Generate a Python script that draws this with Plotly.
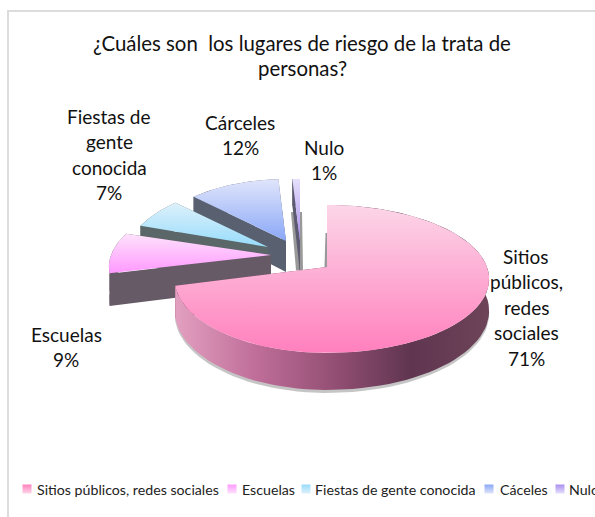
import numpy as np
import plotly.graph_objects as go

CATEGORIES = ["Sitios públicos, redes sociales", "Escuelas", "Fiestas de gente conocida", "Cárceles", "Nulo"]
LEGEND_NAMES = ["Sitios públicos, redes sociales", "Escuelas", "Fiestas de gente conocida", "Cáceles", "Nulo"]
VALUES = [71, 9, 7, 12, 1]
SLICE_LABELS = [["Sitios", "públicos,", "redes", "sociales", "71%"], ["Escuelas", "9%"],
                ["Fiestas de", "gente", "conocida", "7%"], ["Cárceles", "12%"], ["Nulo", "1%"]]
TITLE_LINES = ["¿Cuáles son  los lugares de riesgo de la trata de", "personas?"]

# styles / layout
TOP_COLORS = [("#fcd6e8", "#ff80bd"), ("#fde2fb", "#ff99ff"), ("#def1fb", "#97dcfb"), ("#e0e5fb", "#8aa8f7"), ("#e6e0fb", "#a98ff0")]
SIDE_COLOR = ["#6b4058", "#665a66", "#5a6668", "#596070", "#5c5a70"]
APEX = [(327, 267), (271, 255), (268, 247), (286, 241), (300, 241)]
XSCALE = [0.94, 1.0, 0.88, 0.88, 0.88]
RX, RY, P, DEPTH = 160.0, 72.0, 0.162, 31.0
FONT = "Lato, Carlito, Calibri, sans-serif"
LABEL_X = [526, 66, 109, 240, 324]
LABEL_Y0 = [256, 334, 116, 122, 147]
LABEL_STEP = 25.5
LEGEND_MARK_X = [27, 232, 306, 489, 560]
LEGEND_TEXT_X = [36, 241, 314, 499, 568]
LEGEND_Y = 489
STRIPS = [((293, 212), (298, 270)), ((300, 212), (301, 270)), ((327, 233), (326, 267))]


def project(theta, apex, xs):
    u, v = np.sin(theta), np.cos(theta)
    s = 1 / (1 + P * v)
    sx = np.where(u < 0, xs, 1.0)
    return apex[0] + sx * RX * u * s, apex[1] - RY * v * s, DEPTH * s


fig = go.Figure()
total = sum(VALUES)
fracs = np.array(VALUES) / total
starts = np.concatenate([[0], np.cumsum(fracs)[:-1]]) * 2 * np.pi
ends = np.cumsum(fracs) * 2 * np.pi


def poly(x, y, **kw):
    fig.add_trace(go.Scatter(x=list(x), y=list(y), mode="lines", fill="toself", line=dict(width=0),
                             hoverinfo="skip", showlegend=False, **kw))


def grad(kind, colors):
    n = len(colors) - 1
    return dict(type=kind, colorscale=[[i / n, c] for i, c in enumerate(colors)])


for a, b in STRIPS[:2]:
    fig.add_trace(go.Scatter(x=[a[0], b[0]], y=[a[1], b[1]], mode="lines", hoverinfo="skip", showlegend=False,
                             line=dict(color="rgba(70,70,70,0.55)", width=4)))

for i in [4, 3, 2, 1, 0]:
    t = np.linspace(starts[i], ends[i], 90)
    x, y, d = project(t, APEX[i], XSCALE[i])
    ax, ay = APEX[i]
    if i == 0:
        a, b = STRIPS[2]
        fig.add_trace(go.Scatter(x=[a[0], b[0]], y=[a[1], b[1]], mode="lines", hoverinfo="skip", showlegend=False,
                                 line=dict(color="rgba(70,70,70,0.55)", width=3)))
        # soft shadow under the big slice
        poly(np.r_[x, x[::-1]], np.r_[y + d + 3, y[::-1]], fillcolor="rgba(90,90,90,0.35)")
    # radial faces
    poly([ax, x[-1], x[-1], ax], [ay, y[-1], y[-1] + d[-1], ay + DEPTH], fillcolor=SIDE_COLOR[i])
    if i != 0:
        poly([ax, x[0], x[0], ax], [ay, y[0], y[0] + d[0], ay + DEPTH], fillcolor=SIDE_COLOR[i])
    # outer wall
    if i == 0:
        poly(np.r_[x, x[::-1]], np.r_[y, (y + d)[::-1]], fillcolor="#a0607f",
             fillgradient=grad("horizontal", ["#e3a0c0", "#c06f9a", "#955075", "#5f3550", "#6e4459"]))
    else:
        poly(np.r_[x, x[::-1]], np.r_[y, (y + d)[::-1]], fillcolor=SIDE_COLOR[i])
    # top face
    poly(np.r_[ax, x, ax], np.r_[ay, y, ay], fillcolor=TOP_COLORS[i][1],
         fillgradient=grad("vertical", [TOP_COLORS[i][1], TOP_COLORS[i][0]]))

# frame (runs off the page to the right and bottom)
fig.add_shape(type="rect", x0=8, y0=11, x1=640, y1=560, line=dict(color="#dcdcdc", width=2), layer="below")

for lines, lx, ly in zip(SLICE_LABELS, LABEL_X, LABEL_Y0):
    for k, txt in enumerate(lines):
        fig.add_annotation(x=lx, y=ly + k * LABEL_STEP, text=txt, showarrow=False,
                           font=dict(family=FONT, size=19, color="#111"))
for k, txt in enumerate(TITLE_LINES):
    fig.add_annotation(x=302, y=43 + k * 25, text=txt.replace("  ", "&nbsp; "), showarrow=False,
                       font=dict(family=FONT, size=20.4, color="#111"))

for name, mx, tx, top in zip(LEGEND_NAMES, LEGEND_MARK_X, LEGEND_TEXT_X, TOP_COLORS):
    fig.add_trace(go.Scatter(x=[mx], y=[LEGEND_Y], mode="markers", hoverinfo="skip", showlegend=False,
                             marker=dict(symbol="square", size=9, color=top[1], line=dict(width=0),
                                         gradient=dict(type="vertical", color=top[0]))))
    fig.add_annotation(x=tx, y=LEGEND_Y, text=name, showarrow=False, xanchor="left", xshift=-1,
                       font=dict(family=FONT, size=14.2, color="#222"))

fig.update_layout(width=595, height=517, margin=dict(l=0, r=0, t=0, b=0), paper_bgcolor="white",
                  plot_bgcolor="white", showlegend=False,
                  xaxis=dict(range=[0, 595], visible=False, fixedrange=True),
                  yaxis=dict(range=[517, 0], visible=False, fixedrange=True))
fig.write_html("out.html", config=dict(displayModeBar=False),
               post_script="document.body.style.margin='0';")
